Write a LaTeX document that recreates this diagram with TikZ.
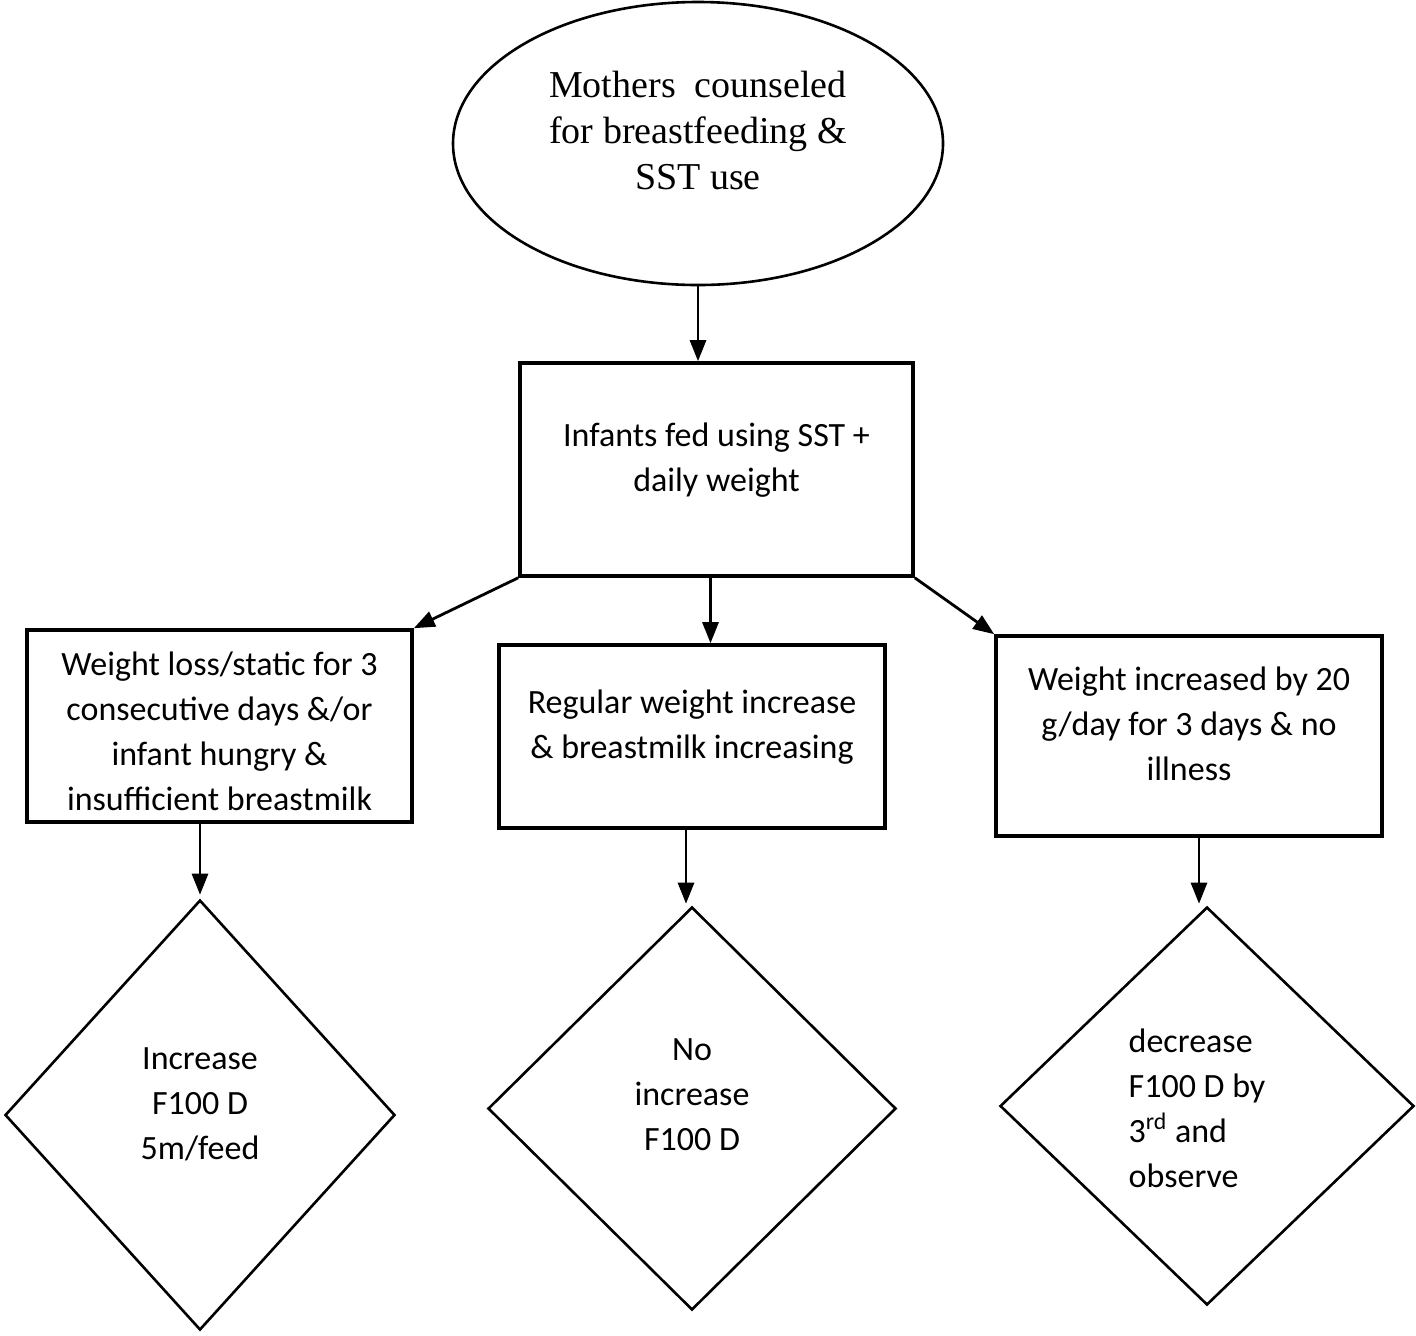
\documentclass[tikz,border=0pt]{standalone}
\usepackage{fontspec}
\setmainfont{Carlito}
\newfontfamily\serifface{Liberation Serif}
\usetikzlibrary{arrows.meta,shapes.geometric}
% text block, raised by #2, columns aligned by #1
\newcommand{\boxtext}[3][c]{\raisebox{#2}[\height][\depth]{\begin{tabular}{@{}#1@{}}#3\end{tabular}}}

\begin{document}
\begin{tikzpicture}[
    x=0.5pt, y=-0.5pt,
    arr/.style={-{Triangle[length=10.5pt, width=8pt]}, line width=1.4pt},
    box/.style={draw, rectangle, line width=1.8pt, inner sep=0pt,
        font=\fontsize{17}{22.5}\selectfont},
    dmd/.style={draw, diamond, line width=1.3pt, inner sep=0pt,
        font=\fontsize{17}{22.5}\selectfont}
]
\useasboundingbox (0,0) rectangle (1416,1335);
% Start
\node[ellipse, draw, line width=1.3pt, inner sep=0pt, minimum width=245pt, minimum height=141.5pt,
    font=\serifface\fontsize{19}{23}\selectfont] (mom) at (698,143.5)
    {\boxtext{4.5pt}{Mothers~~counseled\\for breastfeeding \&\\SST use}};
% Feeding
\node[box, minimum width=196.5pt, minimum height=106.5pt] (inf) at (716.5,469.5)
    {\boxtext{5pt}{Infants fed using SST +\\daily weight}};
\draw[arr] (mom.south) -- (mom.south |- inf.north);
% Outcomes
\node[box, minimum width=192.5pt, minimum height=96pt] (lft) at (219.5,726)
    {\boxtext{-4pt}{Weight loss/static for 3\\consecutive days \&/or\\infant hungry \&\\insufficient breastmilk}};
\node[box, minimum width=193pt, minimum height=91.5pt] (mid) at (692,736.5)
    {\boxtext{5pt}{Regular weight increase\\\& breastmilk increasing}};
\node[box, minimum width=193pt, minimum height=100pt] (rgt) at (1189,736)
    {\boxtext{5pt}{Weight increased by 20\\g/day for 3 days \& no\\illness}};
\draw[arr] (inf.south west) -- (lft.north east);
\draw[arr] ([xshift=-3pt]inf.south) -- ([xshift=-3pt]inf.south |- mid.north);
\draw[arr] (inf.south east) -- (rgt.north west);
% Actions
\node[dmd, minimum width=195pt, minimum height=215pt] (dl) at (200,1115)
    {\boxtext{5pt}{Increase\\F100 D\\5m/feed}};
\node[dmd, minimum width=204pt, minimum height=201.5pt] (dm) at (692,1108.5)
    {\boxtext{6pt}{No\\increase\\F100 D}};
\node[dmd, minimum width=207pt, minimum height=199pt] (dr) at (1207,1106)
    {\boxtext[l]{-2.5pt}{decrease\\F100 D by\\3\textsuperscript{rd} and\\observe}\hspace*{10pt}};
\draw[arr, shorten >=2pt] (dl.north |- lft.south) -- (dl.north);
\draw[arr, shorten >=1pt] ([xshift=-3pt]mid.south) -- ([xshift=-3pt]mid.south |- dm.north);
\draw[arr, shorten >=1pt] ([xshift=5pt]rgt.south) -- ([xshift=5pt]rgt.south |- dr.north);
\end{tikzpicture}
\end{document}
